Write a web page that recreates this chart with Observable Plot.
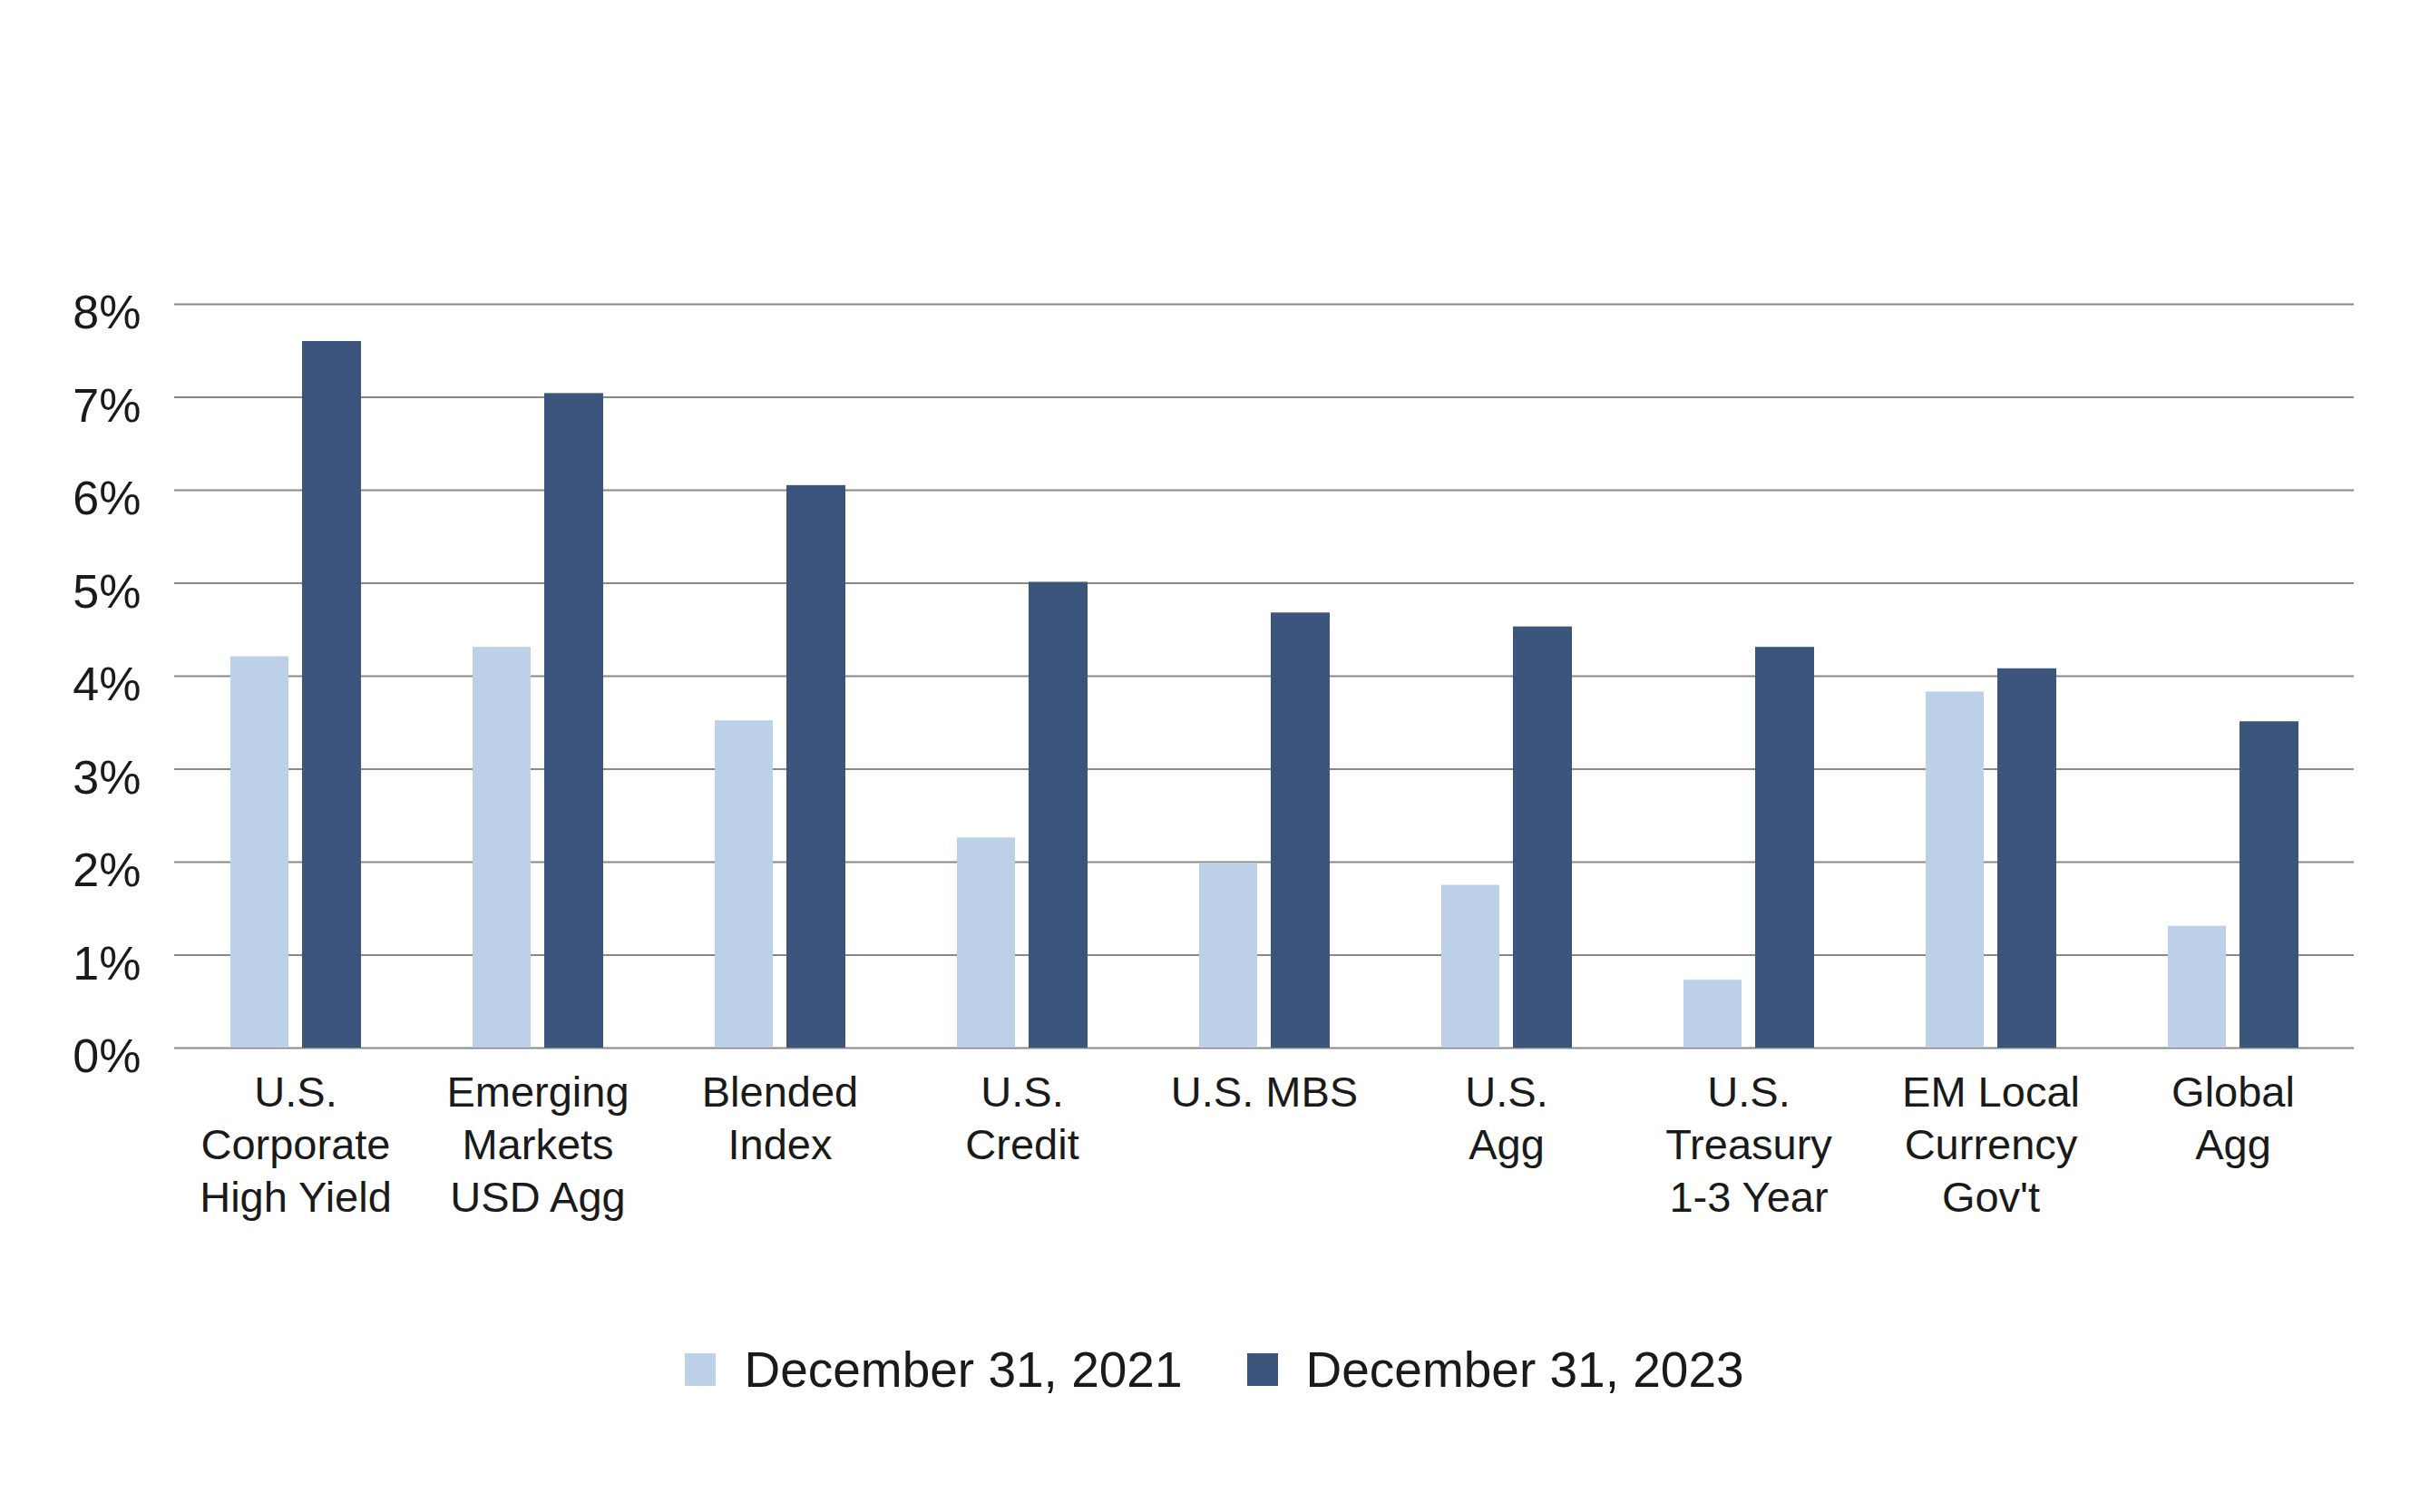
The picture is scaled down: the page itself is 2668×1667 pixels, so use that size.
<!DOCTYPE html>
<html>
<head>
<meta charset="utf-8">
<script src="https://cdn.jsdelivr.net/npm/d3@7"></script>
<script src="https://cdn.jsdelivr.net/npm/@observablehq/plot@0.6"></script>
<style>
  html, body { margin: 0; padding: 0; background: #ffffff; }
  body { width: 2668px; font-family: "Liberation Sans", Arial, sans-serif; color: #1a1a1a; }
  #legend { display: flex; justify-content: center; align-items: center; padding-top: 80px; padding-left: 10px; font-size: 55px; line-height: 60px; }
  .item { display: flex; align-items: center; }
  .sw { width: 34px; height: 36px; margin-right: 31px; }
  .gap { width: 71px; }
</style>
</head>
<body>
<div id="chart"></div>
<div id="legend"></div>
<script>
const categories = ["US HY", "EM USD Agg", "Blended", "US Credit", "US MBS", "US Agg", "UST 1-3", "EM Local", "Global Agg"];
const tickLabels = ["U.S.\nCorporate\nHigh Yield", "Emerging\nMarkets\nUSD Agg", "Blended\nIndex", "U.S.\nCredit", "U.S. MBS", "U.S.\nAgg", "U.S.\nTreasury\n1-3 Year", "EM Local\nCurrency\nGov't", "Global\nAgg"];
const series = ["December 31, 2021", "December 31, 2023"];
const values2021 = [4.21, 4.31, 3.52, 2.26, 1.99, 1.75, 0.73, 3.83, 1.31];
const values2023 = [7.60, 7.04, 6.05, 5.01, 4.68, 4.53, 4.31, 4.08, 3.51];
const yTicks = [0, 1, 2, 3, 4, 5, 6, 7, 8];
const colors = ["#bcd0e7", "#3b557c"];

const data2021 = categories.map((c, i) => ({category: c, series: series[0], value: values2021[i]}));
const data2023 = categories.map((c, i) => ({category: c, series: series[1], value: values2023[i]}));
const labelOf = new Map(categories.map((c, i) => [c, tickLabels[i]]));

const chart = Plot.plot({
  width: 2668,
  height: 1400,
  marginTop: 335,
  marginBottom: 245,
  marginLeft: 192,
  marginRight: 73,
  style: {fontFamily: "'Liberation Sans', Arial, sans-serif", color: "#1a1a1a", background: "#ffffff"},
  x: {domain: categories, padding: 0},
  y: {domain: [0, 8]},
  color: {domain: series, range: colors},
  marks: [
    Plot.ruleY(yTicks, {stroke: "#888888", strokeWidth: 2}),
    Plot.barY(data2021, {x: "category", y: "value", fill: "series", insetLeft: 62, insetRight: 141}),
    Plot.barY(data2023, {x: "category", y: "value", fill: "series", insetLeft: 141, insetRight: 61}),
    Plot.axisY({ticks: yTicks, tickFormat: d => d + "%", tickSize: 0, tickPadding: 37, fontSize: 52, dy: 10, label: null}),
    Plot.axisX({tickFormat: d => labelOf.get(d), tickSize: 0, tickPadding: 23, fontSize: 47, lineHeight: 1.24, label: null})
  ]
});
document.getElementById("chart").appendChild(chart);

const legend = document.getElementById("legend");
series.forEach((s, i) => {
  if (i > 0) { const g = document.createElement("div"); g.className = "gap"; legend.appendChild(g); }
  const item = document.createElement("div");
  item.className = "item";
  const sw = document.createElement("div");
  sw.className = "sw";
  sw.style.background = colors[i];
  const t = document.createElement("span");
  t.textContent = s;
  item.appendChild(sw);
  item.appendChild(t);
  legend.appendChild(item);
});
</script>
</body>
</html>
